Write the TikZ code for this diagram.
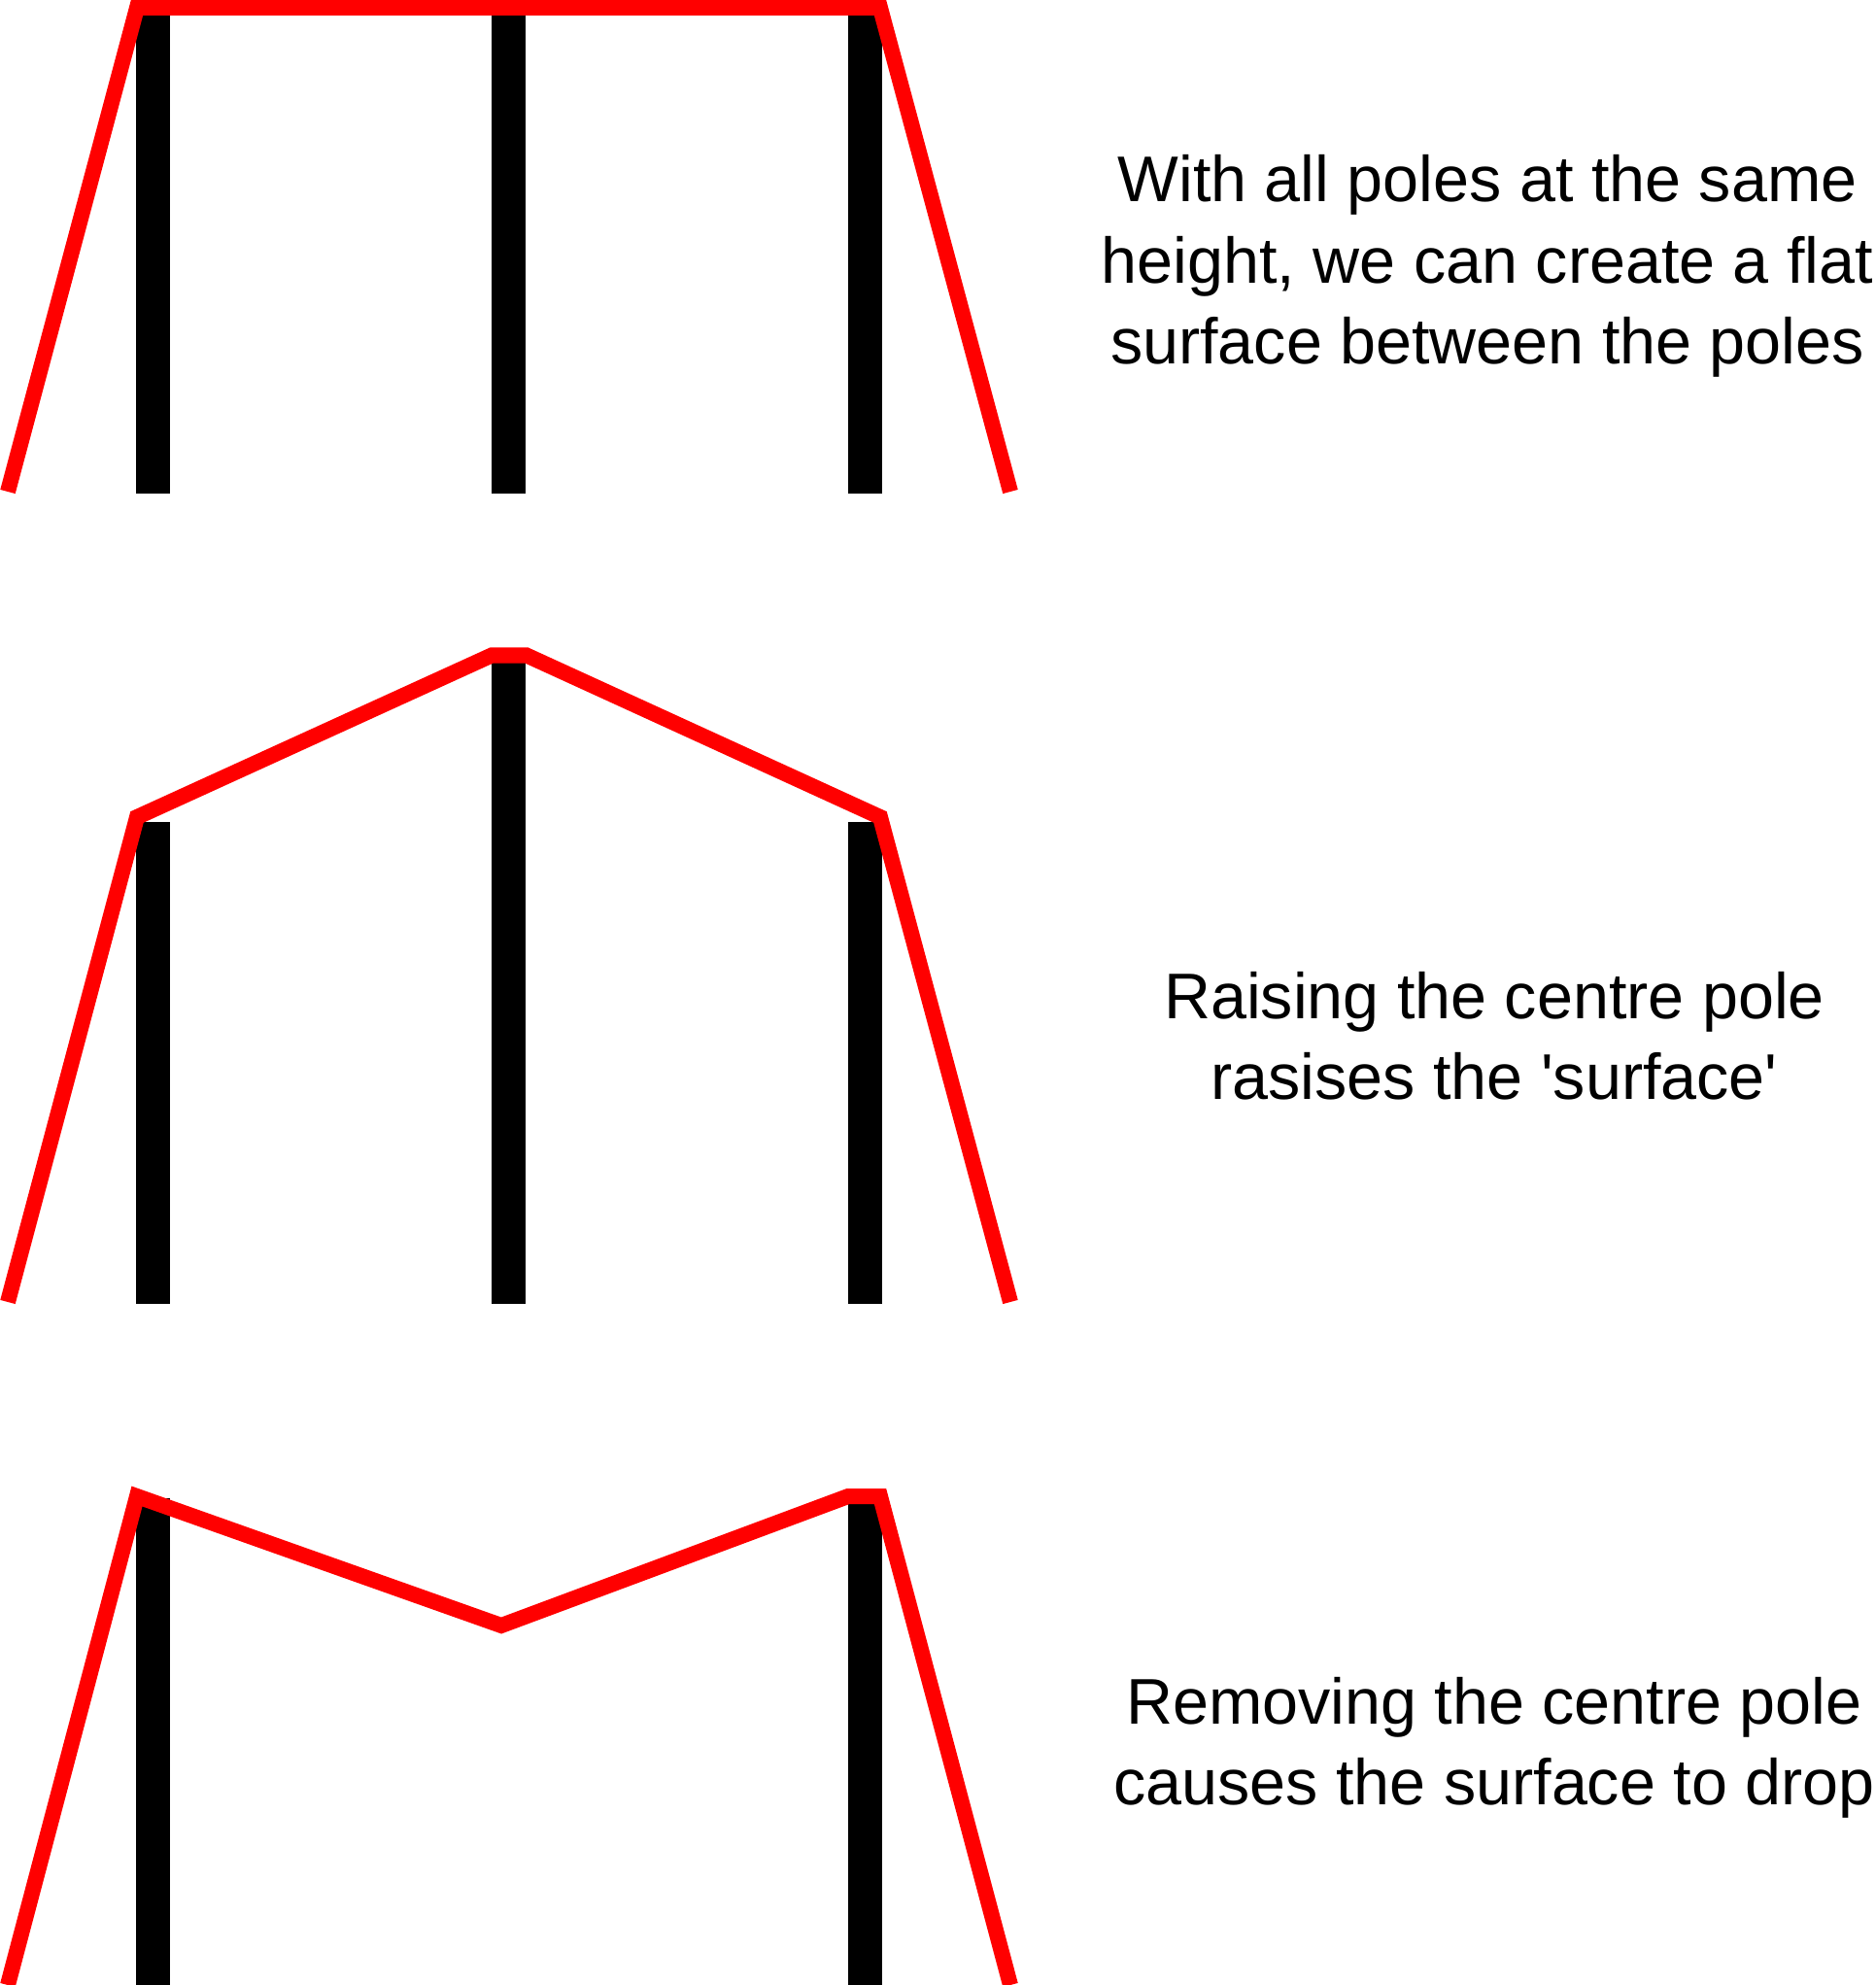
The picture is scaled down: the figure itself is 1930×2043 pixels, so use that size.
\documentclass[tikz,border=0pt]{standalone}
\usepackage{fontspec}
\setmainfont{Liberation Sans}

\begin{document}
\begin{tikzpicture}[x=0.01cm, y=-0.01cm,
  pole/.style={line width=0.35cm},
  surface/.style={red, line width=0.16cm},
  caption/.style={align=center, font=\fontsize{18.9}{23.7}\selectfont}]
\useasboundingbox (0,0) rectangle (1930,2043);
% all poles at the same height
\foreach \x in {157.7,523.9,890.1} \draw[pole] (\x,4) -- (\x,508);
\draw[surface] (8,506) -- (141,8) -- (906,8) -- (1040,506);
\node[caption] (flat) at (1531,274) {With all poles at the same\\height, we can create a flat\\surface between the poles};
% centre pole raised
\draw[pole] (157.7,846) -- (157.7,1342);
\draw[pole] (523.9,680) -- (523.9,1342);
\draw[pole] (890.1,846) -- (890.1,1342);
\draw[surface] (8,1340) -- (141,841) -- (506,674.5) -- (542,674.5) -- (906,841) -- (1040,1340);
\node[caption] (raised) at (1538,1066) {Raising the centre pole\\rasises the \textquotesingle surface\textquotesingle};
% centre pole removed
\foreach \x in {157.7,890.1} \draw[pole] (\x,1542) -- (\x,2043);
\draw[surface] (8,2043) -- (141,1540) -- (516,1673) -- (873,1540) -- (906,1540) -- (1040,2043);
\node[caption] (dropped) at (1538,1799) {Removing the centre pole\\causes the surface to drop};
\end{tikzpicture}
\end{document}
